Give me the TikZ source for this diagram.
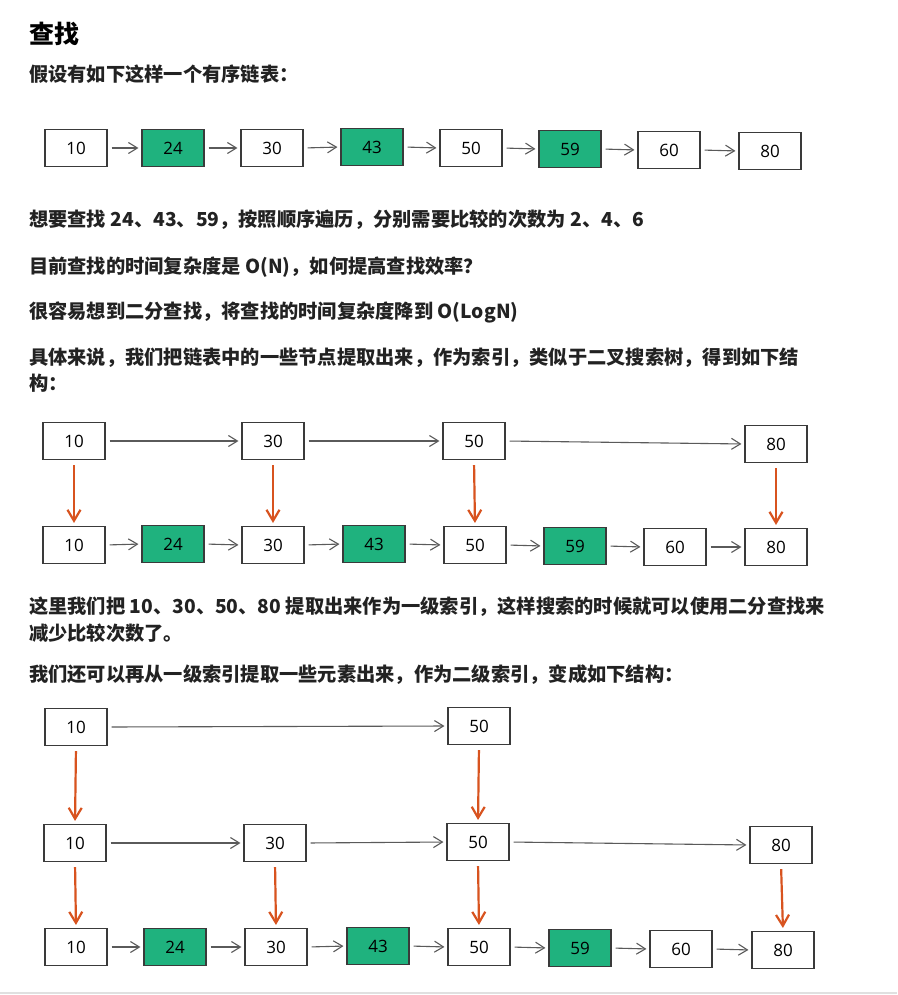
\documentclass[tikz,border=0pt]{standalone}
\usepackage{fontspec}
\setmainfont{Open Sans}
\newfontfamily\cjk{Noto Sans CJK SC}
\usetikzlibrary{arrows.meta}
\definecolor{ink}{HTML}{222222}
\definecolor{boxline}{HTML}{3A3A3A}
\definecolor{linkgray}{HTML}{5A5A5A}
\definecolor{hit}{HTML}{1FB27E}
\definecolor{down}{HTML}{D8531F}
\tikzset{
  para/.style={anchor=west, inner sep=0pt, text=ink,
    font=\cjk\bfseries\fontsize{19.25}{23}\selectfont},
  heading/.style={anchor=west, inner sep=0pt, text=black,
    font=\cjk\bfseries\fontsize{25}{30}\selectfont},
  cell/.style={draw=boxline, line width=1.1pt, fill=white,
    minimum width=62pt, minimum height=37pt, inner sep=0pt,
    font=\fontsize{17}{20}\selectfont, text=black},
  found/.style={cell, fill=hit},
  link/.style={draw=linkgray, line width=1.1pt,
    -{Straight Barb[length=9pt,width=11pt,line width=1.1pt]},
    shorten <=4pt, shorten >=3pt},
  descend/.style={draw=down, line width=2.2pt,
    -{Straight Barb[length=11pt,width=13pt,line width=2.2pt]},
    shorten <=5pt, shorten >=3pt},
}
\begin{document}
\begin{tikzpicture}[x=1pt,y=-1pt]
\useasboundingbox (0,0) rectangle (897,995);
\fill[white] (0,0) rectangle (897,995);

% text
\node[heading] (title) at (29,34) {查找};
\node[para] (t1) at (29,74) {假设有如下这样一个有序链表：};
\node[para] (t2) at (29,220) {想要查找 24、43、59，按照顺序遍历，分别需要比较的次数为 2、4、6};
\node[para] (t3) at (29,267) {目前查找的时间复杂度是 O(N)，如何提高查找效率？};
\node[para] (t4) at (29,312) {很容易想到二分查找，将查找的时间复杂度降到 O(LogN)};
\node[para] (t5) at (29,358) {具体来说，我们把链表中的一些节点提取出来，作为索引，类似于二叉搜索树，得到如下结};
\node[para] (t6) at (29,383) {构：};
\node[para] (t7) at (29,607) {这里我们把 10、30、50、80 提取出来作为一级索引，这样搜索的时候就可以使用二分查找来};
\node[para] (t8) at (29,633) {减少比较次数了。};
\node[para] (t9) at (29,675) {我们还可以再从一级索引提取一些元素出来，作为二级索引，变成如下结构：};

% plain sorted list
\node[cell]  (a10) at (76,148)  {10};
\node[found] (a24) at (173,148) {24};
\node[cell]  (a30) at (272,148) {30};
\node[found] (a43) at (372,147) {43};
\node[cell]  (a50) at (471,148) {50};
\node[found] (a59) at (570,149) {59};
\node[cell]  (a60) at (669,150) {60};
\node[cell]  (a80) at (770,151) {80};
\foreach \p/\q in {a10/a24,a24/a30,a30/a43,a43/a50,a50/a59,a59/a60,a60/a80}
  \draw[link] (\p.east) -- (\q.west);

% one index level
\node[cell]  (b10) at (74,441)  {10};
\node[cell]  (b30) at (273,441) {30};
\node[cell]  (b50) at (474,441) {50};
\node[cell]  (b80) at (776,444) {80};
\node[cell]  (c10) at (74,545)  {10};
\node[found] (c24) at (173,544) {24};
\node[cell]  (c30) at (273,545) {30};
\node[found] (c43) at (374,544) {43};
\node[cell]  (c50) at (475,545) {50};
\node[found] (c59) at (575,546) {59};
\node[cell]  (c60) at (675,547) {60};
\node[cell]  (c80) at (776,547) {80};
\foreach \p/\q in {b10/b30,b30/b50,b50/b80,
                   c10/c24,c24/c30,c30/c43,c43/c50,c50/c59,c59/c60,c60/c80}
  \draw[link] (\p.east) -- (\q.west);
\foreach \p/\q in {b10/c10,b30/c30,b50/c50,b80/c80}
  \draw[descend] (\p.south) -- (\q.north);

% two index levels
\node[cell]  (d10) at (76,727)  {10};
\node[cell]  (d50) at (479,726) {50};
\node[cell]  (e10) at (75,843)  {10};
\node[cell]  (e30) at (275,843) {30};
\node[cell]  (e50) at (478,842) {50};
\node[cell]  (e80) at (781,845) {80};
\node[cell]  (f10) at (76,947)  {10};
\node[found] (f24) at (175,947) {24};
\node[cell]  (f30) at (276,947) {30};
\node[found] (f43) at (378,946) {43};
\node[cell]  (f50) at (479,947) {50};
\node[found] (f59) at (580,948) {59};
\node[cell]  (f60) at (681,949) {60};
\node[cell]  (f80) at (783,950) {80};
\foreach \p/\q in {d10/d50,e10/e30,e30/e50,e50/e80,
                   f10/f24,f24/f30,f30/f43,f43/f50,f50/f59,f59/f60,f60/f80}
  \draw[link] (\p.east) -- (\q.west);
\foreach \p/\q in {d10/e10,d50/e50,e10/f10,e30/f30,e50/f50,e80/f80}
  \draw[descend] (\p.south) -- (\q.north);

% page rule
\draw[black!12, line width=2pt] (0,993) -- (897,993);
\end{tikzpicture}
\end{document}
